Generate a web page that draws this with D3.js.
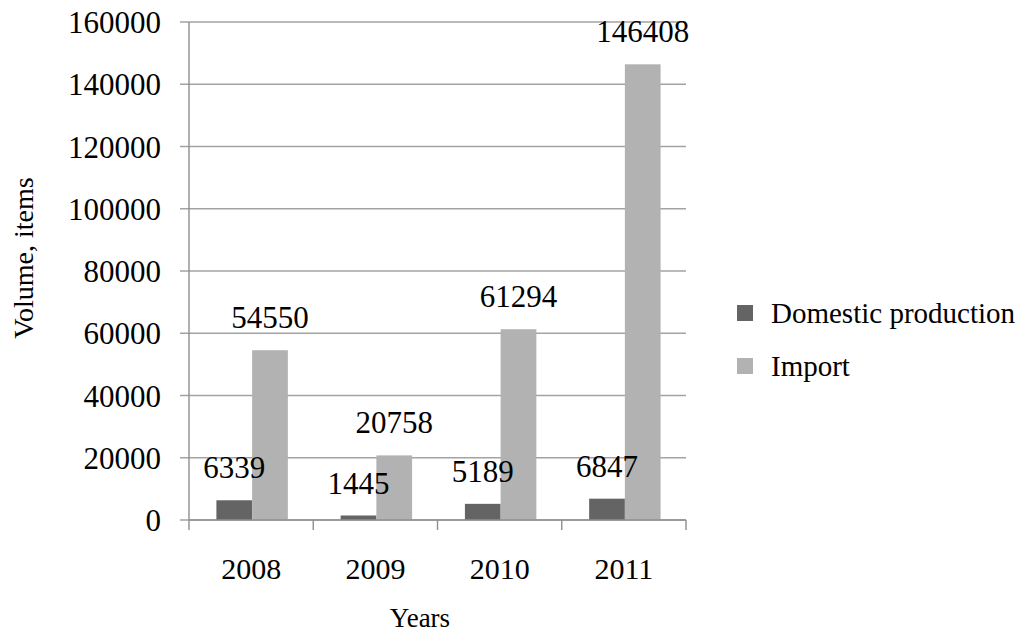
<!DOCTYPE html>
<html><head><meta charset="utf-8">
<script src="https://cdn.jsdelivr.net/npm/d3@7"></script>
<style>body{margin:0;background:#fff}svg{display:block}</style>
</head><body><svg id="c" width="1026" height="634"></svg>
<script>
const years = ["2008","2009","2010","2011"];
const domestic = [6339, 1445, 5189, 6847];
const imports = [54550, 20758, 61294, 146408];
const seriesNames = ["Domestic production","Import"];
const seriesColors = ["#646464","#b2b2b2"];
const yTicks = [0,20000,40000,60000,80000,100000,120000,140000,160000];

const FONT = "'Liberation Serif', 'Times New Roman', serif";
const svg = d3.select("#c");
const L = 189, R = 686, T = 22, B = 520;
const x = d3.scaleBand().domain(years).range([L, R]).padding(0);
const y = d3.scaleLinear().domain([0,160000]).range([B, T]);
const sub = d3.scaleBand().domain([0,1]).range([0, x.bandwidth()*0.575]).padding(0);
const off = (x.bandwidth() - x.bandwidth()*0.575)/2 + 1;

function txt(sel){ return sel.style("font-family", FONT).attr("fill","#000"); }

// gridlines
svg.append("g").selectAll("line").data(yTicks).join("line")
  .attr("x1", L-9).attr("x2", R).attr("y1", d=>y(d)).attr("y2", d=>y(d))
  .attr("stroke","#a3a3a3").attr("stroke-width",1.4);
// y labels
txt(svg.append("g").selectAll("text").data(yTicks).join("text"))
  .attr("x", 161).attr("y", d=>y(d)+11).attr("text-anchor","end")
  .style("font-size","31px").text(d=>d);
// y axis line
svg.append("line").attr("x1",L).attr("x2",L).attr("y1",T).attr("y2",B)
  .attr("stroke","#8f8f8f").attr("stroke-width",1.4);
// x axis ticks
const bounds = years.map(d=>x(d)).concat([R]);
svg.append("g").selectAll("line").data(bounds).join("line")
  .attr("x1",d=>d).attr("x2",d=>d).attr("y1",B).attr("y2",B+10)
  .attr("stroke","#8f8f8f").attr("stroke-width",1.4);

const series = [domestic, imports];
series.forEach((vals, si) => {
  svg.append("g").selectAll("rect").data(vals).join("rect")
    .attr("x", (d,i)=>x(years[i]) + off + sub(si))
    .attr("width", sub.bandwidth())
    .attr("y", d=>y(d)).attr("height", d=>B - y(d))
    .attr("fill", seriesColors[si]);
});
svg.append("line").attr("x1",L).attr("x2",R).attr("y1",B).attr("y2",B)
  .attr("stroke","#8f8f8f").attr("stroke-width",1.4);
series.forEach((vals, si) => {
  txt(svg.append("g").selectAll("text").data(vals).join("text"))
    .attr("x", (d,i)=>x(years[i]) + off + sub(si) + sub.bandwidth()/2)
    .attr("y", d=>y(d) - 22).attr("text-anchor","middle")
    .style("font-size","31px").text(d=>d);
});
// x labels
txt(svg.append("g").selectAll("text").data(years).join("text"))
  .attr("x", d=>x(d)+x.bandwidth()/2).attr("y", 579).attr("text-anchor","middle")
  .style("font-size","30px").text(d=>d);
// axis titles
txt(svg.append("text")).attr("x",420).attr("y",627).attr("text-anchor","middle")
  .style("font-size","27px").text("Years");
txt(svg.append("text")).attr("transform","translate(33,258) rotate(-90)").attr("text-anchor","middle")
  .style("font-size","28px").text("Volume, items");
// legend
seriesNames.forEach((n,i)=>{
  const cy = 313 + i*53;
  svg.append("rect").attr("x",737).attr("y",cy-8).attr("width",16).attr("height",16).attr("fill",seriesColors[i]);
  txt(svg.append("text")).attr("x",771).attr("y",cy+10).style("font-size","29px").text(n);
});
</script></body></html>
